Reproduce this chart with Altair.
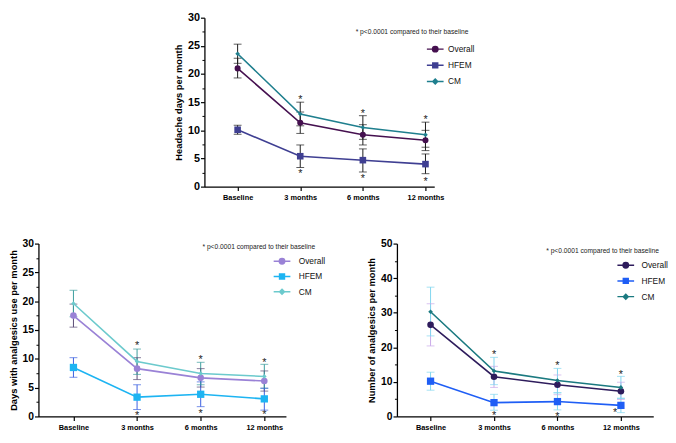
import json
import altair as alt
import pandas as pd

FONT = "Liberation Sans"

timepoints = ["Baseline", "3 months", "6 months", "12 months"]
groups = ["Overall", "HFEM", "CM"]
note_text = "* p<0.0001 compared to their baseline"

# Panel A: headache days per month (mean, lower, upper)
a_overall = [21.0, 11.35, 9.2, 8.25]
a_overall_lo = [19.3, 9.45, 7.4, 6.4]
a_overall_hi = [22.8, 13.25, 11.0, 10.0]
a_hfem = [10.1, 5.4, 4.7, 4.0]
a_hfem_lo = [9.3, 3.4, 2.6, 2.3]
a_hfem_hi = [10.9, 7.4, 6.7, 5.8]
a_cm = [23.6, 12.9, 10.5, 9.2]
a_cm_lo = [21.9, 10.8, 8.4, 7.0]
a_cm_hi = [25.3, 15.0, 12.6, 11.45]
a_star_above = [15.9, 13.4, 12.3]
a_star_below = [2.8, 1.9, 1.35]
a_star_below_t = [1, 2, 3]

# Panel B: days with analgesics use per month
b_overall = [17.5, 8.3, 6.7, 6.15]
b_overall_lo = [15.5, 6.4, 5.1, 4.4]
b_overall_hi = [19.5, 10.2, 8.3, 7.9]
b_hfem = [8.5, 3.35, 3.85, 3.05]
b_hfem_lo = [6.8, 1.2, 1.7, 1.1]
b_hfem_hi = [10.2, 5.5, 6.0, 4.9]
b_cm = [19.6, 9.55, 7.45, 6.95]
b_cm_lo = [17.3, 7.3, 5.5, 4.9]
b_cm_hi = [21.9, 11.7, 9.4, 9.05]
b_star_above = [12.7, 10.3, 9.8]
b_star_below = [0.65, 0.95, 0.67]
b_star_below_t = [1, 2, 3]

# Panel C: number of analgesics per month
c_overall = [26.5, 11.5, 9.15, 7.3]
c_overall_lo = [20.4, 8.4, 6.3, 4.9]
c_overall_hi = [32.6, 14.5, 12.0, 9.9]
c_hfem = [10.2, 4.0, 4.3, 3.2]
c_hfem_lo = [7.6, 1.8, 1.9, 1.1]
c_hfem_hi = [12.8, 6.4, 6.8, 5.2]
c_cm = [30.3, 13.15, 10.4, 8.4]
c_cm_lo = [23.3, 9.2, 6.9, 5.3]
c_cm_hi = [37.4, 17.1, 13.9, 11.6]
c_star_above = [18.5, 15.5, 12.7]
c_star_below = [1.0, 0.7, 1.7]
c_star_below_t = [1, 2, 2.91]

label_expr = json.dumps(timepoints) + "[datum.value]"

LEGEND_PATHS = [
    "M-1.7,0H1.7M-0.55,0A0.55,0.55 0 1,0 0.55,0A0.55,0.55 0 1,0 -0.55,0Z",
    "M-1.7,0H1.7M-0.5,-0.5H0.5V0.5H-0.5Z",
    "M-1.7,0H1.7M0,-0.5L0.5,0L0,0.5L-0.5,0Z",
]
POINT_SHAPES = ["circle", "square", "diamond"]


def build_frame(means, los, his):
    rows = []
    for g, m, lo, hi in zip(groups, means, los, his):
        for i in range(len(timepoints)):
            rows.append({"t": i, "time": timepoints[i], "group": g,
                         "mean": m[i], "lo": lo[i], "hi": hi[i]})
    return pd.DataFrame(rows)


def build_stars(above, below, below_t):
    rows = []
    for i, v in enumerate(above):
        rows.append({"t": i + 1, "y": v, "pos": "above"})
    for t, v in zip(below_t, below):
        rows.append({"t": t, "y": v, "pos": "below"})
    return pd.DataFrame(rows)


def panel(df, stars, xdom, ymax, ystep, width, height, title, line_cols, eb_cols,
          point_sizes, leg, note_xy, yfs, xfs):
    x_axis = alt.Axis(values=[0, 1, 2, 3], labelExpr=label_expr, title=None, grid=False,
                      labelFont=FONT, labelFontSize=xfs, labelFontWeight="bold",
                      labelColor="black", labelPadding=3, tickSize=4, tickColor="black",
                      tickWidth=1.2, domainColor="black", domainWidth=1.3)
    xs = alt.Scale(domain=xdom, nice=False, zero=False)
    y_axis = alt.Axis(values=list(range(0, ymax + 1, ystep)), title=title, grid=False,
                      orient="left",
                      labelFont=FONT, labelFontSize=yfs, labelFontWeight="bold",
                      labelColor="black", labelPadding=1, tickSize=4, tickColor="black",
                      tickWidth=1.2, domainColor="black", domainWidth=1.3,
                      titleFont=FONT, titleFontSize=9.5, titleFontWeight="bold",
                      titleColor="black", titlePadding=4)
    minor_vals = [v + ystep / 2 for v in range(0, ymax, ystep)]
    minor_axis = alt.Axis(values=minor_vals, orient="left", labels=False, domain=False,
                          title=None, grid=False, tickSize=2.5, tickColor="black",
                          tickWidth=1)
    ys = alt.Scale(domain=[0, ymax], nice=False)

    def X():
        return alt.X("t:Q", scale=xs, axis=x_axis)

    def Y(f):
        return alt.Y(f"{f}:Q", scale=ys, axis=y_axis)

    base = alt.Chart(df)
    eb_color = alt.Color("group:N", scale=alt.Scale(domain=groups, range=eb_cols), legend=None)
    line_color = alt.Color("group:N", scale=alt.Scale(domain=groups, range=line_cols), legend=None)

    bars = base.mark_rule(strokeWidth=1).encode(x=X(), y=Y("lo"), y2="hi:Q", color=eb_color)
    cap_lo = base.mark_tick(orient="horizontal", size=8, thickness=1).encode(
        x=X(), y=Y("lo"), color=eb_color)
    cap_hi = base.mark_tick(orient="horizontal", size=8, thickness=1).encode(
        x=X(), y=Y("hi"), color=eb_color)
    lines = base.mark_line(strokeWidth=1.6).encode(x=X(), y=Y("mean"), color=line_color)

    pts = []
    for g, shp, sz, col in zip(groups, POINT_SHAPES, point_sizes, line_cols):
        pts.append(base.transform_filter(alt.datum.group == g).mark_point(
            filled=True, shape=shp, size=sz, color=col, opacity=1).encode(x=X(), y=Y("mean")))

    star_layer = alt.Chart(stars).mark_text(
        text="*", font=FONT, fontSize=11, color="#222222", dy=3).encode(x=X(), y=Y("y"))

    note = alt.Chart(pd.DataFrame({"note": [note_text]})).mark_text(
        font=FONT, fontSize=6.8, color="#222222", align="left", baseline="middle").encode(
        x=alt.value(note_xy[0]), y=alt.value(note_xy[1]), text="note:N")

    legend = alt.Legend(orient="none", legendX=leg[0], legendY=leg[1], title=None,
                        labelFont=FONT, labelFontSize=8.5, labelColor="#111111",
                        symbolSize=100, symbolStrokeWidth=1.5, labelOffset=leg[2],
                        rowPadding=leg[3], padding=0, symbolOpacity=1)
    leg_layer = alt.Chart(df).transform_filter("false").mark_point(filled=True, opacity=1).encode(
        fill=alt.Fill("group:N", scale=alt.Scale(domain=groups, range=line_cols), legend=legend),
        stroke=alt.Stroke("group:N", scale=alt.Scale(domain=groups, range=line_cols), legend=legend),
        shape=alt.Shape("group:N", scale=alt.Scale(domain=groups, range=LEGEND_PATHS), legend=legend),
    )

    main = alt.layer(bars, cap_lo, cap_hi, lines, *pts, star_layer, note, leg_layer).resolve_scale(
        color="independent", fill="independent", stroke="independent", shape="independent")

    minor = base.mark_point(opacity=0).encode(
        x=X(), y=alt.Y("mean:Q", scale=ys, axis=minor_axis))

    return alt.layer(main, minor).resolve_axis(y="independent").resolve_scale(
        color="independent", fill="independent", stroke="independent", shape="independent"
    ).properties(width=width, height=height)


dfa = build_frame([a_overall, a_hfem, a_cm], [a_overall_lo, a_hfem_lo, a_cm_lo],
                  [a_overall_hi, a_hfem_hi, a_cm_hi])
dfb = build_frame([b_overall, b_hfem, b_cm], [b_overall_lo, b_hfem_lo, b_cm_lo],
                  [b_overall_hi, b_hfem_hi, b_cm_hi])
dfc = build_frame([c_overall, c_hfem, c_cm], [c_overall_lo, c_hfem_lo, c_cm_lo],
                  [c_overall_hi, c_hfem_hi, c_cm_hi])

top = panel(dfa, build_stars(a_star_above, a_star_below, a_star_below_t), [-0.53, 3.14],
            30, 5, 234, 172, "Headache days per month",
            ["#45104f", "#3f3f92", "#1f7f8e"], ["#1a1a1a", "#1a1a1a", "#1a1a1a"],
            [38, 45, 22], (229, 26, 7, 4.5), (154, 15), 11, 7.5)

bl = panel(dfb, build_stars(b_star_above, b_star_below, b_star_below_t), [-0.55, 3.34],
           30, 5, 252, 176, "Days with analgesics use per month",
           ["#9a82d6", "#1db4f2", "#6ccacd"], ["#574873", "#3a5fe0", "#3a9c9c"],
           [45, 55, 22], (242, 12, 11, 3.5), (167, 4), 10.5, 7.5)

br = panel(dfc, build_stars(c_star_above, c_star_below, c_star_below_t), [-0.53, 3.51],
           50, 10, 261, 176, "Number of analgesics per month",
           ["#2e1c5c", "#1f5ef5", "#1b7a80"], ["#c9a9e9", "#7fd5f0", "#7fd5f0"],
           [45, 55, 22], (227, 16, 10, 4), (152, 8), 10.5, 7.5)

spacer = alt.Chart(pd.DataFrame({"v": [0]})).mark_point(opacity=0).encode(
    x=alt.X("v:Q", axis=None), y=alt.Y("v:Q", axis=None)).properties(width=137, height=10)

row1 = alt.hconcat(spacer, top, spacing=0).resolve_scale(
    color="independent", fill="independent", stroke="independent", shape="independent")
row2 = alt.hconcat(bl, br, spacing=42).resolve_scale(
    color="independent", fill="independent", stroke="independent", shape="independent")

chart = alt.vconcat(row1, row2, spacing=38).resolve_scale(
    color="independent", fill="independent", stroke="independent", shape="independent"
).properties(padding=0).configure_view(stroke=None)

chart.save("out.html", embed_options={"renderer": "svg", "actions": False})
